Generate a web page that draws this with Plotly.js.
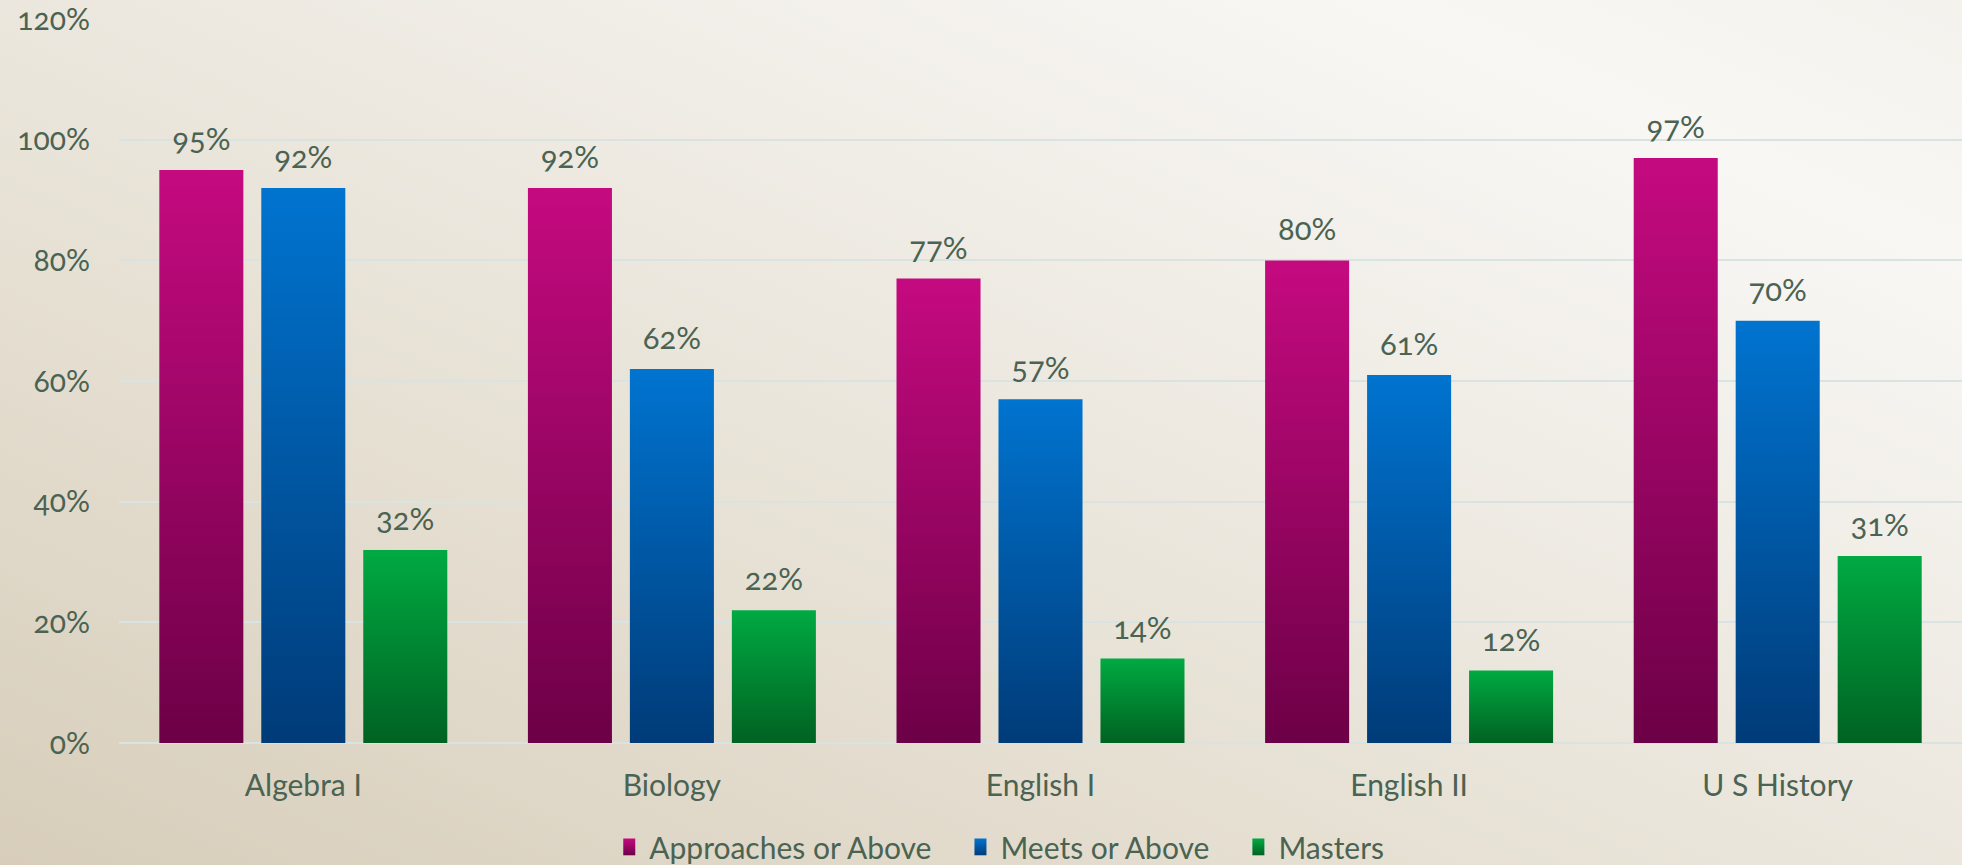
<!DOCTYPE html>
<html>
<head>
<meta charset="utf-8">
<script src="https://cdn.plot.ly/plotly-3.0.1.min.js"></script>
<style>
  html, body { margin: 0; padding: 0; width: 1962px; height: 865px; overflow: hidden; }
  body { background: linear-gradient(to top right, #d7cdba 0%, #e6e0d3 35%, #f1eee8 65%, #f8f7f4 85%, #f4f2ed 100%); }
  #chart { width: 1962px; height: 865px; }
  svg text { font-feature-settings: "onum" 1; font-variant-numeric: oldstyle-nums; }
</style>
</head>
<body>
<div id="chart"></div>
<script>
const categories = ["Algebra I", "Biology", "English I", "English II", "U S History"];
const seriesNames = ["Approaches or Above", "Meets or Above", "Masters"];
const approaches = [0.95, 0.92, 0.77, 0.80, 0.97];
const meets = [0.92, 0.62, 0.57, 0.61, 0.70];
const masters = [0.32, 0.22, 0.14, 0.12, 0.31];
const yTickVals = [0, 0.2, 0.4, 0.6, 0.8, 1.0, 1.2];
const yTickText = ["0%", "20%", "40%", "60%", "80%", "100%", "120%"];

const gradTop = ["#c50a80", "#0074d0", "#00aa42"];
const gradBottom = ["#6c0046", "#003b78", "#006222"];
const textColor = "#4a6352";
const fontFam = "Lato, 'Noto Sans', sans-serif";

const seriesValues = [approaches, meets, masters];
const traces = seriesValues.map((vals, i) => ({
  type: "bar",
  name: seriesNames[i],
  x: categories,
  y: vals,
  marker: { color: gradTop[i], line: { width: 0 } },
  texttemplate: "%{y:.0%}",
  textposition: "outside",
  textfont: { family: fontFam, size: 31, color: textColor },
  cliponaxis: false,
  hoverinfo: "skip"
}));

const layout = {
  width: 1962,
  height: 865,
  autosize: false,
  margin: { l: 119, r: 0, t: 19, b: 121.5, pad: 0, autoexpand: false },
  paper_bgcolor: "rgba(0,0,0,0)",
  plot_bgcolor: "rgba(0,0,0,0)",
  barmode: "group",
  bargap: 0.17,
  bargroupgap: 0.176,
  font: { family: fontFam, color: textColor },
  xaxis: {
    type: "category",
    showgrid: false,
    showline: false,
    ticks: "",
    automargin: false,
    tickfont: { family: fontFam, size: 30, color: textColor },
    ticklabelstandoff: 22
  },
  yaxis: {
    range: [0, 1.2004],
    tickvals: yTickVals,
    ticktext: yTickText,
    showgrid: true,
    gridcolor: "#d9e4e2",
    gridwidth: 2,
    zeroline: true,
    zerolinecolor: "#d9e4e2",
    zerolinewidth: 2,
    showline: false,
    ticks: "",
    automargin: false,
    ticklabeloverflow: "allow",
    tickfont: { family: fontFam, size: 30, color: textColor },
    ticklabelstandoff: 28
  },
  showlegend: true,
  legend: {
    orientation: "h",
    x: 0.4646,
    xanchor: "center",
    y: -0.1435,
    yanchor: "middle",
    font: { family: fontFam, size: 30, color: textColor },
    bgcolor: "rgba(0,0,0,0)",
    itemclick: false,
    traceorder: "normal"
  }
};

Plotly.newPlot("chart", traces, layout, { staticPlot: true, displayModeBar: false }).then(function (gd) {
  const svg = gd.querySelector("svg.main-svg");
  const ns = "http://www.w3.org/2000/svg";
  let defs = svg.querySelector("defs");
  if (!defs) { defs = document.createElementNS(ns, "defs"); svg.insertBefore(defs, svg.firstChild); }
  for (let i = 0; i < 3; i++) {
    const lg = document.createElementNS(ns, "linearGradient");
    lg.setAttribute("id", "bargrad" + i);
    lg.setAttribute("x1", "0"); lg.setAttribute("y1", "0");
    lg.setAttribute("x2", "0"); lg.setAttribute("y2", "1");
    const s1 = document.createElementNS(ns, "stop");
    s1.setAttribute("offset", "0"); s1.setAttribute("stop-color", gradTop[i]);
    const s2 = document.createElementNS(ns, "stop");
    s2.setAttribute("offset", "1"); s2.setAttribute("stop-color", gradBottom[i]);
    lg.appendChild(s1); lg.appendChild(s2);
    defs.appendChild(lg);
  }
  const barTraces = gd.querySelectorAll(".barlayer .trace.bars");
  barTraces.forEach(function (t, i) {
    t.querySelectorAll("g.point path").forEach(function (p) { p.style.fill = "url(#bargrad" + i + ")"; });
    t.querySelectorAll("g.point text").forEach(function (tx) {
      const tr = tx.getAttribute("transform") || "";
      tx.setAttribute("transform", "translate(0,-10) " + tr);
    });
  });
  gd.querySelectorAll(".legend [clip-path]").forEach(function (el) { el.removeAttribute("clip-path"); });
  const extra = 24;
  const legendTraces = gd.querySelectorAll(".legend .traces");
  legendTraces.forEach(function (t, i) {
    t.querySelectorAll(".legendpoints path").forEach(function (p) {
      p.style.fill = "url(#bargrad" + i + ")";
      const tr = p.getAttribute("transform") || "";
      p.setAttribute("transform", tr + " scale(1,1.4)");
    });
    const m = /translate\(\s*([-\d.]+)[ ,]+([-\d.]+)\s*\)/.exec(t.getAttribute("transform") || "");
    if (m) {
      t.setAttribute("transform", "translate(" + (parseFloat(m[1]) + i * extra) + "," + m[2] + ")");
    }
  });
});
</script>
</body>
</html>
